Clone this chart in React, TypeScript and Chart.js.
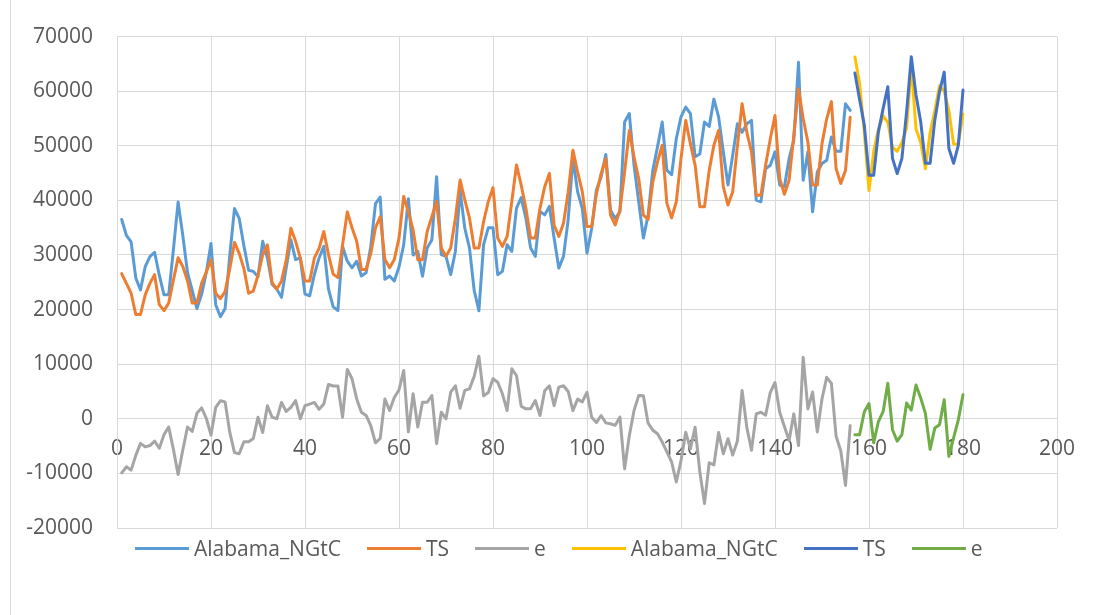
import React, { useEffect, useRef } from "react";
import { Chart, registerables } from "chart.js";

Chart.register(...registerables);

// Monthly natural gas series, periods 1-156 (fitted range)
const actualFit = [
  36500, 33600, 32400, 25800, 23600, 27850, 29700, 30500, 26300, 22700, 22700, 31000,
  39700, 33600, 26800, 23500, 20200, 22800, 26800, 32100, 20900, 18700, 20200, 30000,
  38500, 36700, 31700, 27200, 27000, 26000, 32500, 29500, 24650, 23750, 22240, 27660,
  32780, 29160, 29460, 22840, 22540, 26450, 29460, 31570, 23750, 20500, 19830, 31570,
  28860, 27660, 28860, 26150, 26750, 31570, 39400, 40600, 25550, 26150, 25250, 27800,
  31870, 40300, 30000, 30650, 26100, 31270, 32800, 44350, 30060, 29750, 26400, 30700,
  41800, 34900, 31270, 23500, 19800, 31900, 35000, 35000, 26400, 27000, 31900, 30650,
  38570, 40500, 36750, 31270, 29750, 37960, 37350, 38900, 33100, 27600, 29750, 36500,
  47700, 41600, 38500, 30330, 34900, 41900, 44300, 48400, 38200, 36700, 37900, 54350,
  55900, 46500, 39750, 33100, 37300, 45500, 49800, 54350, 45500, 44700, 51300, 55300,
  57100, 55900, 48000, 48500, 54350, 53550, 58550, 55300, 48900, 42800, 48250, 54050,
  52500, 54050, 54650, 40050, 39750, 45800, 46450, 48900, 42800, 42500, 47650, 51000,
  65300, 43700, 48900, 37900, 45200, 46750, 47350, 51600, 49000, 49000, 57700, 56500,
];

const tsFit = [
  26600, 24800, 23000, 19100, 19100, 22700, 24800, 26400, 20900, 19800, 21200, 25400,
  29500, 27900, 25300, 21200, 21200, 24800, 26900, 29100, 23000, 22000, 23300, 27500,
  32300, 30300, 27500, 23000, 23400, 26300, 30000, 31870, 24950, 23750, 25250, 29000,
  34880, 32500, 29460, 25250, 25250, 29460, 31200, 34300, 30070, 26500, 25850, 31870,
  37900, 35000, 32500, 27360, 27360, 30300, 35000, 37000, 29160, 27660, 29160, 33080,
  40720, 37900, 34600, 29150, 29150, 34300, 37050, 39800, 31270, 29750, 31270, 36750,
  43740, 40100, 36750, 31270, 31270, 36100, 39800, 42340, 33100, 31580, 33400, 39800,
  46500, 42800, 38570, 33100, 33100, 38570, 42500, 44950, 35500, 33400, 35800, 41500,
  49200, 45200, 41600, 35200, 35200, 41200, 44900, 47650, 37300, 35500, 38200, 45200,
  52800, 48000, 44000, 37300, 36500, 43400, 47050, 50100, 39450, 36800, 39750, 47650,
  54650, 50400, 46450, 38850, 38850, 45500, 50100, 52800, 42500, 39150, 41600, 50000,
  57700, 52500, 48900, 40950, 40950, 46450, 51300, 55550, 44000, 41100, 43700, 51900,
  60400, 54950, 50700, 42800, 42800, 50400, 54950, 58100, 45800, 43100, 45500, 55250,
];

const errFit = [
  -9900, -8800, -9400, -6700, -4500, -5150, -4900, -4100, -5400, -2900, -1500, -5600,
  -10200, -5700, -1500, -2300, 1000, 2000, 100, -3000, 2100, 3300, 3100, -2500,
  -6200, -6400, -4200, -4200, -3600, 300, -2500, 2400, 300, 0, 3000, 1340,
  2100, 3340, 0, 2400, 2700, 3000, 1740, 2730, 6300, 6000, 6000, 300,
  9040, 7340, 3640, 1210, 610, -1270, -4400, -3600, 3610, 1510, 3910, 5280,
  8850, -2400, 4600, -1500, 3050, 3030, 4250, -4550, 1210, 0, 4870, 6050,
  1940, 5200, 5480, 7770, 11470, 4200, 4800, 7340, 6700, 4580, 1500, 9150,
  7930, 2300, 1820, 1830, 3350, 610, 5150, 6050, 2400, 5800, 6050, 5000,
  1500, 3600, 3100, 4870, 300, -700, 600, -750, -900, -1200, 300, -9150,
  -3100, 1500, 4250, 4200, -800, -2100, -2750, -4250, -6050, -7900, -11550, -7650,
  -2450, -5500, -1550, -9650, -15500, -8050, -8450, -2500, -6400, -3650, -6650, -4050,
  5200, -1550, -5750, 900, 1200, 650, 4850, 6650, 1200, -1400, -3950, 900,
  -4900, 11250, 1800, 4900, -2400, 3650, 7600, 6500, -3200, -5900, -12200, -1250,
];

// Hold-out periods 157-180
const actualHold = [
  66250, 61400, 52500, 41800, 49000, 53000, 55500, 54300, 49700, 49000, 50600, 53300,
  64700, 53100, 50600, 45800, 52400, 56400, 61000, 60000, 56400, 50300, 50300, 55800,
];

const tsHold = [
  63350, 58500, 53800, 44600, 44600, 52550, 56800, 60800, 47700, 44900, 47700, 56200,
  66300, 59300, 54400, 46800, 46800, 54700, 59900, 63500, 49500, 46800, 50100, 60200,
];

const errHold = [
  -2900, -2900, 1300, 2800, -4400, -500, 1300, 6500, -2000, -4100, -2900, 2900,
  1600, 6200, 3800, 1000, -5600, -1700, -1100, 3500, -6900, -3500, -200, 4400,
];

const fitStart = 1;
const holdStart = 157;

const seriesNames = ["Alabama_NGtC", "TS", "e", "Alabama_NGtC", "TS", "e"];
const seriesColors = ["#5B9BD5", "#ED7D31", "#A5A5A5", "#FFC000", "#4472C4", "#70AD47"];

const xTicks = { min: 0, max: 200, step: 20 };
const yTicks = { min: -20000, max: 70000, step: 10000 };

const FONT = "'Open Sans', 'Liberation Sans', sans-serif";
const TEXT_COLOR = "#595959";
const GRID_COLOR = "#D9D9D9";

const toPoints = (values: number[], start: number) =>
  values.map((y, i) => ({ x: start + i, y }));

export default function App() {
  const canvasRef = useRef<HTMLCanvasElement | null>(null);

  useEffect(() => {
    if (!canvasRef.current) return;
    const sources = [
      toPoints(actualFit, fitStart),
      toPoints(tsFit, fitStart),
      toPoints(errFit, fitStart),
      toPoints(actualHold, holdStart),
      toPoints(tsHold, holdStart),
      toPoints(errHold, holdStart),
    ];
    const chart = new Chart(canvasRef.current, {
      type: "line",
      data: {
        datasets: sources.map((data, i) => ({
          label: seriesNames[i],
          data,
          borderColor: seriesColors[i],
          backgroundColor: seriesColors[i],
          borderWidth: 3,
          pointRadius: 0,
          tension: 0,
          fill: false,
          borderJoinStyle: "round" as const,
          borderCapStyle: "round" as const,
          order: sources.length - 1 - i,
        })),
      },
      options: {
        responsive: false,
        animation: false,
        layout: { padding: { left: 0, right: 48, top: 35, bottom: 87 } },
        plugins: {
          legend: { display: false },
          tooltip: { enabled: false },
        },
        scales: {
          x: {
            type: "linear",
            min: xTicks.min,
            max: xTicks.max,
            position: { y: 0 } as any,
            ticks: {
              stepSize: xTicks.step,
              color: TEXT_COLOR,
              font: { family: FONT, size: 21 },
              padding: 18,
              maxRotation: 0,
            },
            grid: { color: GRID_COLOR, lineWidth: 1, drawTicks: false },
            border: { display: true, color: GRID_COLOR, width: 1 },
          },
          y: {
            type: "linear",
            min: yTicks.min,
            max: yTicks.max,
            ticks: {
              stepSize: yTicks.step,
              color: TEXT_COLOR,
              font: { family: FONT, size: 21 },
              padding: 24,
              callback: (v: any) => String(v),
            },
            grid: { color: GRID_COLOR, lineWidth: 1, drawTicks: false },
            border: { display: true, color: GRID_COLOR, width: 1 },
            afterFit: (scale: any) => {
              scale.width = 117;
            },
          },
        },
      },
    });
    return () => chart.destroy();
  }, []);

  return (
    <div
      style={{
        position: "absolute",
        left: 0,
        top: 0,
        width: 1105,
        height: 615,
        background: "#ffffff",
        overflow: "hidden",
      }}
    >
      <canvas ref={canvasRef} width={1105} height={615} style={{ display: "block", width: 1105, height: 615 }} />
      {/* chart frame edge on the left */}
      <div
        style={{
          position: "absolute",
          left: 10,
          top: 0,
          width: 1,
          height: 615,
          background: GRID_COLOR,
        }}
      />
      <div
        style={{
          position: "absolute",
          left: 135,
          top: 536,
          display: "flex",
          alignItems: "center",
          whiteSpace: "nowrap",
          fontFamily: FONT,
          fontSize: 21,
          lineHeight: "25px",
          color: TEXT_COLOR,
        }}
      >
        {seriesNames.map((name, i) => (
          <div key={i} style={{ display: "flex", alignItems: "center", marginRight: 26 }}>
            <span style={{ display: "inline-block", width: 54, height: 3, background: seriesColors[i] }} />
            <span style={{ marginLeft: 5 }}>{name}</span>
          </div>
        ))}
      </div>
    </div>
  );
}
